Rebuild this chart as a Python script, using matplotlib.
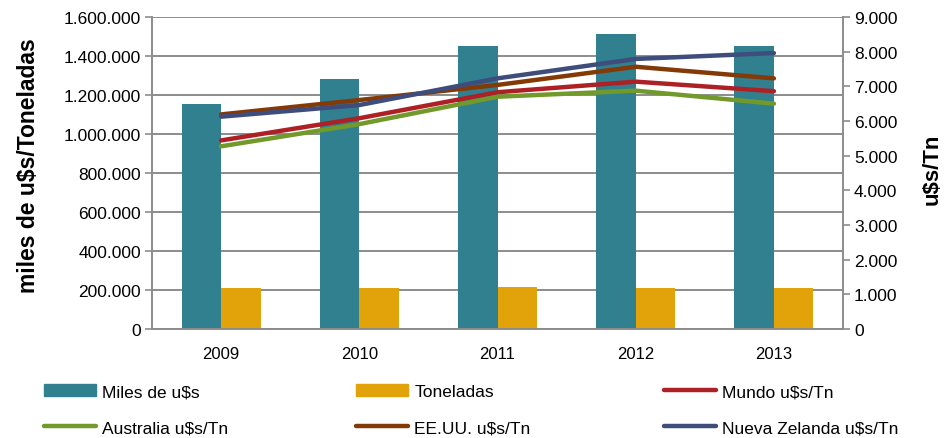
import numpy as np
import matplotlib
matplotlib.use('Agg')
import matplotlib.pyplot as plt
from matplotlib.ticker import FuncFormatter
import matplotlib.patches as mpatches
import matplotlib.lines as mlines

plt.rcParams['font.family'] = ['Liberation Sans', 'DejaVu Sans']

years = ['2009', '2010', '2011', '2012', '2013']
miles_usd = [1155000, 1282000, 1451000, 1513000, 1451000]
toneladas = [212000, 208000, 215000, 212000, 212000]

mundo = [5440, 6080, 6830, 7135, 6860]
australia = [5270, 5910, 6700, 6875, 6500]
eeuu = [6190, 6605, 7040, 7565, 7230]
nueva_zelanda = [6125, 6460, 7230, 7790, 7960]

C_TEAL = '#31808F'
C_GOLD = '#E2A30A'
C_RED = '#AD2126'
C_GREEN = '#719A2B'
C_BROWN = '#843A06'
C_NAVY = '#3E4D7C'
GRID = '#8C8C8C'


def thousands(v, pos):
    return f'{int(round(v)):,}'.replace(',', '.')


fig = plt.figure(figsize=(9.51, 4.39), dpi=100)
ax = fig.add_axes([152 / 951, 1 - 330 / 439, (843 - 152) / 951, (330 - 18) / 439])
ax2 = ax.twinx()

x = np.arange(len(years))
bw = 0.286
ax.bar(x - bw / 2, miles_usd, width=bw, color=C_TEAL, zorder=2)
ax.bar(x + bw / 2, toneladas, width=bw, color=C_GOLD, zorder=2)

ax.set_ylim(0, 1600000)
ax.set_yticks(np.arange(0, 1600001, 200000))
ax.yaxis.set_major_formatter(FuncFormatter(thousands))
ax.set_xlim(-0.5, 4.5)
ax.set_xticks(x)
ax.set_xticklabels(years)
ax.yaxis.grid(True, color=GRID, linewidth=1.4)
ax.set_axisbelow(True)
ax.tick_params(axis='x', length=0, labelsize=12, pad=12)
ax.tick_params(axis='y', length=5, color=GRID, width=1.2, labelsize=12.5, pad=3)
for s in ['left', 'bottom']:
    ax.spines[s].set_color(GRID)
    ax.spines[s].set_linewidth(1.4)
ax.spines['top'].set_visible(False)
ax.spines['right'].set_visible(False)

lw = 3.2
for vals, col in [(mundo, C_RED), (australia, C_GREEN), (eeuu, C_BROWN), (nueva_zelanda, C_NAVY)]:
    ax2.plot(x, vals, color=col, linewidth=lw, solid_capstyle='round',
             solid_joinstyle='round', zorder=3)

ax2.set_ylim(0, 9000)
ax2.set_yticks(np.arange(0, 9001, 1000))
ax2.yaxis.set_major_formatter(FuncFormatter(thousands))
ax2.tick_params(axis='y', length=5, color=GRID, width=1.2, labelsize=12.5, pad=3)
ax2.spines['right'].set_color(GRID)
ax2.spines['right'].set_linewidth(1.4)
for s in ['left', 'bottom', 'top']:
    ax2.spines[s].set_visible(False)

# axis titles placed in figure coords
fig.text(29 / 951, 1 - 166 / 439, 'miles de u$s/Toneladas', rotation=90, ha='center', va='center',
         fontsize=16.5, fontweight='bold')
fig.text(932 / 951, 1 - 169 / 439, 'u$s/Tn', rotation=90, ha='center', va='center',
         fontsize=16, fontweight='bold')

# legend: three columns placed by hand
h_miles = mpatches.Patch(color=C_TEAL, label='Miles de u$s')
h_ton = mpatches.Patch(color=C_GOLD, label='Toneladas')
h_mun = mlines.Line2D([], [], color=C_RED, linewidth=lw, solid_capstyle='round', label='Mundo u$s/Tn')
h_aus = mlines.Line2D([], [], color=C_GREEN, linewidth=lw, solid_capstyle='round', label='Australia u$s/Tn')
h_usa = mlines.Line2D([], [], color=C_BROWN, linewidth=lw, solid_capstyle='round', label='EE.UU. u$s/Tn')
h_nz = mlines.Line2D([], [], color=C_NAVY, linewidth=lw, solid_capstyle='round', label='Nueva Zelanda u$s/Tn')

for handles, xpos in [([h_miles, h_aus], 44), ([h_ton, h_usa], 356), ([h_mun, h_nz], 664)]:
    leg = fig.legend(handles=handles, loc='upper left', bbox_to_anchor=(xpos / 951, 1 - 385 / 439),
                     frameon=False, fontsize=12.5, handlelength=3.0, handleheight=0.7,
                     handletextpad=0.35, labelspacing=1.2, borderaxespad=0, borderpad=0)

fig.savefig('out.png', dpi=100)
